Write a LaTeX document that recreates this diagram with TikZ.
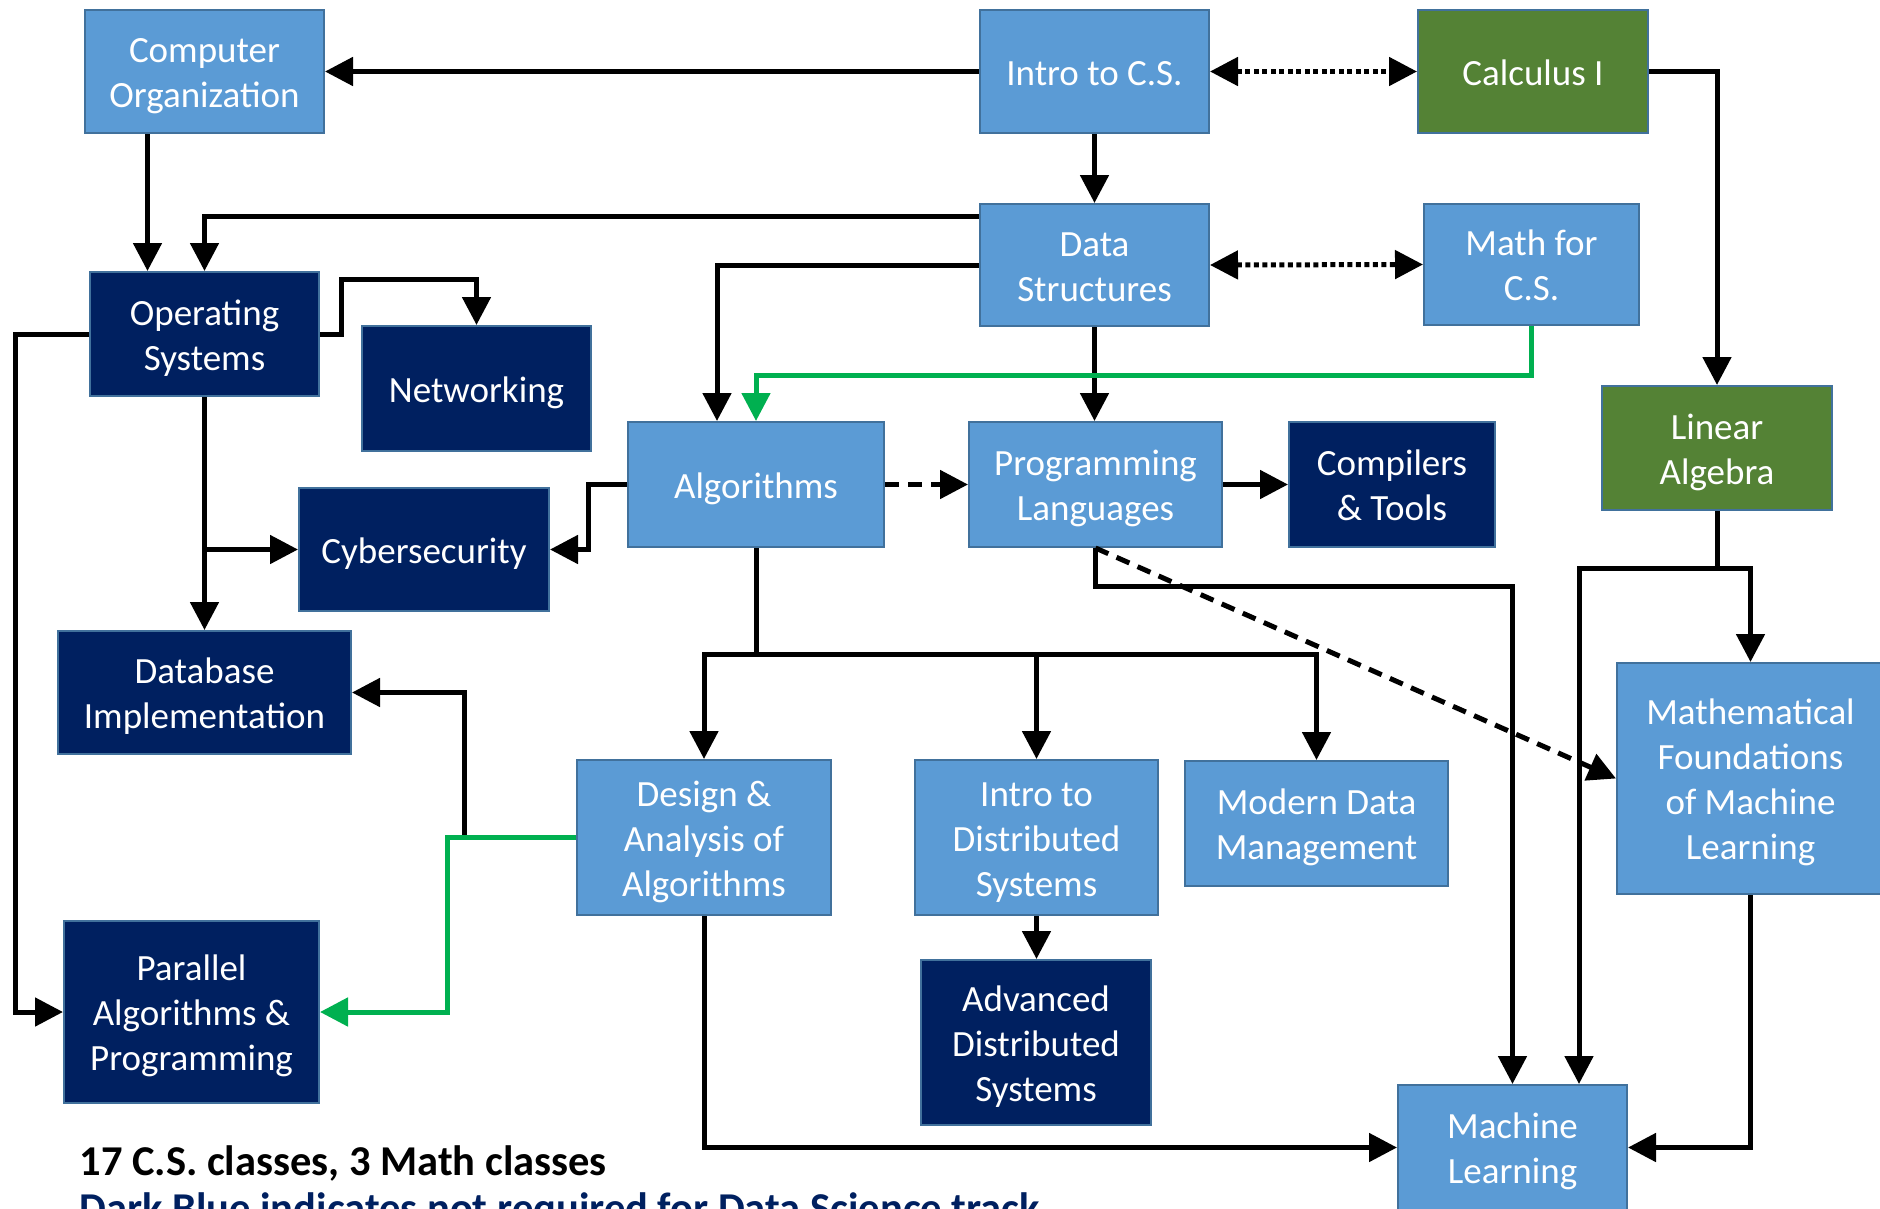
\documentclass[tikz,border=0pt]{standalone}
\usepackage{fontspec}
\setmainfont{Carlito}
\usetikzlibrary{arrows.meta,positioning}
\definecolor{lightbox}{HTML}{5B9BD5}
\definecolor{darkbox}{HTML}{002060}
\definecolor{mathbox}{HTML}{548235}
\definecolor{boxedge}{HTML}{41719C}
\definecolor{greenline}{HTML}{00B050}
\newcommand{\boxstrut}{\rule{0pt}{36pt}}

\begin{document}
\begin{tikzpicture}[
  x=1pt, y=-1pt,
  >={Triangle[length=28pt,width=28pt]},
  box/.style={rectangle,draw=boxedge,line width=2pt,inner sep=0pt,align=center,
    text=white,font=\fontsize{37}{45}\selectfont,
    execute at end node={\rule[-9pt]{0pt}{9pt}}},
  lb/.style={box,fill=lightbox},
  db/.style={box,fill=darkbox},
  gb/.style={box,fill=mathbox},
  dep/.style={->,line width=5pt},
  gdep/.style={->,line width=5pt,draw=greenline,
    >={Triangle[length=28pt,width=28pt,fill=greenline]}},
  dotarr/.style={<->,line width=5pt,dash pattern=on 5pt off 3.5pt},
  dasharr/.style={->,line width=5pt,dash pattern=on 14pt off 9pt},
]
\useasboundingbox (0,0) rectangle (1880,1208);
\clip (0,0) rectangle (1880,1208);

% ===== top rows =====
\node[lb,minimum width=239pt,minimum height=123pt] (CompOrg) at (204.5,71.5) {\boxstrut Computer\\Organization};
\node[lb,minimum width=229pt,minimum height=123pt] (IntroCS) at (1094.5,71.5) {\boxstrut Intro to C.S.};
\node[gb,minimum width=230pt,minimum height=123pt] (Calc1) at (1533,71.5) {\boxstrut Calculus I};
\node[db,minimum width=229pt,minimum height=124pt] (OS) at (204.5,334) {\boxstrut Operating\\Systems};
\node[lb,minimum width=229pt,minimum height=122pt] (DS) at (1094.5,265) {\boxstrut Data\\Structures};
\node[lb,minimum width=215pt,minimum height=121pt] (MathCS) at (1531.5,264.5) {\boxstrut Math for\\C.S.};
\node[db,minimum width=229pt,minimum height=125pt] (Net) at (476.5,388.5) {\boxstrut Networking};
\node[gb,minimum width=230pt,minimum height=124pt] (LinAlg) at (1717,448) {\boxstrut Linear\\Algebra};

% ===== middle rows =====
\node[lb,minimum width=256pt,minimum height=125pt] (Alg) at (756,484.5) {\boxstrut Algorithms};
\node[lb,minimum width=253pt,minimum height=125pt] (Prog) at (1095.5,484.5) {\boxstrut Programming\\Languages};
\node[db,minimum width=206pt,minimum height=125pt] (Comp) at (1392,484.5) {\boxstrut Compilers\\\& Tools};
\node[db,minimum width=250pt,minimum height=123pt] (Cyber) at (424,549.5) {\boxstrut Cybersecurity};
\node[db,minimum width=293pt,minimum height=123pt] (DB) at (204.5,692.5) {\boxstrut Database\\Implementation};
\node[lb,minimum width=267pt,minimum height=231pt] (MFML) at (1750.5,778.5) {\boxstrut Mathematical\\Foundations\\of Machine\\Learning};

% ===== bottom rows =====
\node[lb,minimum width=254pt,minimum height=155pt] (DAA) at (704,837.5) {\boxstrut Design \&\\Analysis of\\Algorithms};
\node[lb,minimum width=243pt,minimum height=155pt] (IDS) at (1036.5,837.5) {\boxstrut Intro to\\Distributed\\Systems};
\node[lb,minimum width=263pt,minimum height=125pt] (MDM) at (1316.5,823.5) {\boxstrut Modern Data\\Management};
\node[db,minimum width=255pt,minimum height=182pt] (Par) at (191.5,1012) {\boxstrut Parallel\\Algorithms \&\\Programming};
\node[db,minimum width=230pt,minimum height=165pt] (ADS) at (1036,1042.5) {\boxstrut Advanced\\Distributed\\Systems};
\node[lb,minimum width=229pt,minimum height=125pt] (ML) at (1512.5,1147.5) {\boxstrut Machine\\Learning};

\node[anchor=base west,font=\bfseries\fontsize{42.5}{50}\selectfont] (note1) at (76,1175)
  {17 C.S. classes, 3 Math classes};
\node[anchor=base west,font=\bfseries\fontsize{42.5}{50}\selectfont,text=darkbox] (note2) at (76,1222)
  {Dark Blue indicates not required for Data Science track};

% ===== connectors =====
\draw[dep] (IntroCS.west) -- (CompOrg.east);
\draw[dotarr] (IntroCS.east) -- (Calc1.west);
\draw[dep] (Calc1.east) -| (LinAlg.north);
\draw[dep] (IntroCS.south) -- (DS.north);
\draw[dep] ([xshift=-57pt]CompOrg.south) -- ([xshift=-57pt]OS.north);
\draw[dep] ([yshift=49pt]DS.west) -| (OS.north);
\draw[dotarr] (DS.east) -- (MathCS.west);
\draw[dep] (DS.west) -| ([xshift=-39pt]Alg.north);
\draw[dep] (DS.south) -- (DS.south |- Prog.north);
\draw[dep] (OS.east) -- ++(21,0) -- ++(0,-55) -| (Net.north);
\draw[dep] (OS.west) -- ++(-74,0) |- (Par.west);
\draw[dep] (OS.south) -- (DB.north);
\draw[dep] (OS.south |- Cyber.west) -- (Cyber.west);
\draw[dep] (Alg.west) -- ++(-39,0) |- (Cyber.east);
\draw[dasharr] (Alg.east) -- (Prog.west);
\draw[dep] (Prog.east) -- (Comp.west);
\draw[dep] (Alg.south) -- ++(0,106.5) coordinate (br) -| (DAA.north);
\draw[dep] (br) -| (IDS.north);
\draw[dep] (br) -| (MDM.north);
\draw[dep] (Prog.south) -- ++(0,38) -| (ML.north);
\draw[dasharr] (Prog.south) -- (MFML.west);
\draw[dep] (LinAlg.south) -- ++(0,57) coordinate (la) -| (MFML.north);
\draw[dep] (la) -| ([xshift=66.5pt]ML.north);
\draw[dep] (MFML.south) |- (ML.east);
\draw[dep] (DAA.south) |- (ML.west);
\draw[dep] (IDS.south) -- (IDS.south |- ADS.north);
\draw[dep] (DAA.west) -- ++(-112,0) |- (DB.east);
% green prerequisites
\draw[gdep] (MathCS.south) -- ++(0,49) -| (Alg.north);
\draw[gdep] (DAA.west) -- ++(-129,0) |- (Par.east);
\end{tikzpicture}
\end{document}
